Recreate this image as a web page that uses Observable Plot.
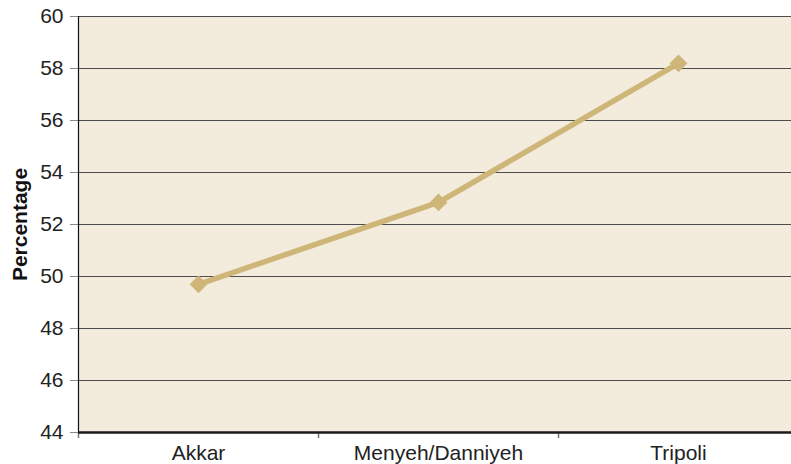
<!DOCTYPE html>
<html>
<head>
<meta charset="utf-8">
<script src="https://cdn.jsdelivr.net/npm/d3@7"></script>
<script src="https://cdn.jsdelivr.net/npm/@observablehq/plot@0.6"></script>
<style>
  html, body { margin: 0; padding: 0; background: #fff; overflow: hidden; }
  #chart svg { display: block; max-width: none !important; font-family: "Liberation Sans", Arial, sans-serif; }
</style>
</head>
<body>
<div id="chart"></div>
<script>
// Share (%) by district
const districts = ["Akkar", "Menyeh/Danniyeh", "Tripoli"];
const percentages = [49.7, 52.85, 58.2];
const yTicks = [44, 46, 48, 50, 52, 54, 56, 58, 60];
const gridValues = [46, 48, 50, 52, 54, 56, 58, 60];

const rows = districts.map((name, i) => ({name, pos: i + 0.5, value: percentages[i]}));

const lineColor = "#cdb678";
const paper = "#f3ecdd";

const chart = Plot.plot({
  width: 798,
  height: 464,
  marginLeft: 78,
  marginRight: 0,
  marginTop: 16,
  marginBottom: 32,
  style: {fontFamily: "Liberation Sans, Arial, sans-serif", fontSize: "21px", color: "#222", maxWidth: "none"},
  x: {domain: [0, districts.length], axis: null},
  y: {domain: [44, 60], axis: null},
  marks: [
    Plot.frame({fill: paper, stroke: null}),
    Plot.gridY(gridValues, {stroke: "#4d4d4d", strokeOpacity: 1, strokeWidth: 1.2}),
    // category boundary ticks
    Plot.axisX(d3.range(districts.length + 1), {tickSize: 6, tickFormat: () => "", stroke: "#777", strokeWidth: 1.5, label: null}),
    // category labels at band centres
    Plot.axisX(rows.map(d => d.pos), {tickSize: 0, tickPadding: 13, tickFormat: (v) => districts[Math.floor(v)], fontSize: 21, fill: "#222", label: null}),
    Plot.axisY(yTicks, {tickSize: 8, tickPadding: 7, stroke: "#888", fontSize: 21, fill: "#222", label: null}),
    Plot.ruleY([44], {stroke: "#1a1a1a", strokeWidth: 2.5}),
    Plot.ruleX([0], {stroke: "#111", strokeWidth: 1.2}),
    Plot.text(["Percentage"], {frameAnchor: "left", textAnchor: "middle", dx: -58, rotate: -90, fontWeight: "bold", fontSize: 21, fill: "#111"}),
    Plot.line(rows, {x: "pos", y: "value", stroke: lineColor, strokeWidth: 5.5}),
    Plot.dot(rows, {x: "pos", y: "value", symbol: "diamond2", r: 8, fill: lineColor, stroke: null})
  ]
});

document.getElementById("chart").appendChild(chart);
</script>
</body>
</html>
